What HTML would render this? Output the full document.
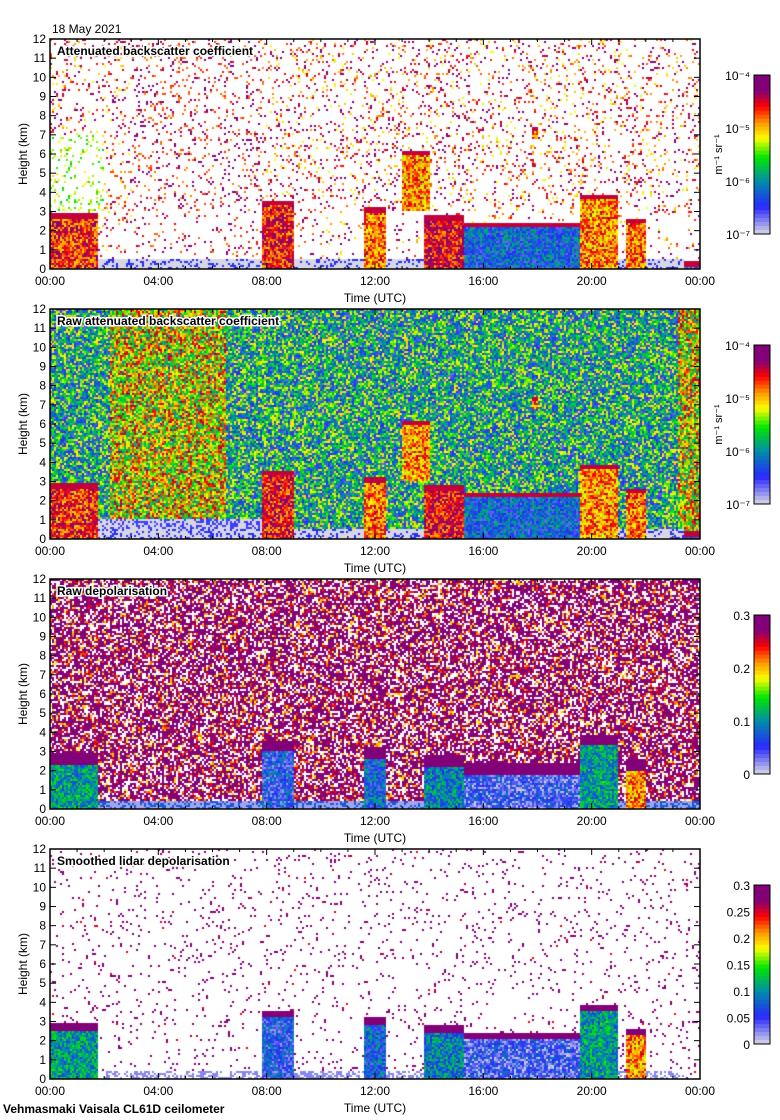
<!DOCTYPE html>
<html><head><meta charset="utf-8">
<style>
body{margin:0;background:#fff;width:780px;height:1120px;overflow:hidden;font-family:"Liberation Sans",sans-serif;}
#wrap{position:relative;width:780px;height:1120px;}
canvas{position:absolute;}
svg{position:absolute;left:0;top:0;}
</style></head>
<body>
<div id="wrap">
<canvas id="c0" width="650" height="230" style="left:50px;top:39px"></canvas>
<canvas id="c1" width="650" height="230" style="left:50px;top:309px"></canvas>
<canvas id="c2" width="650" height="230" style="left:50px;top:579px"></canvas>
<canvas id="c3" width="650" height="230" style="left:50px;top:849px"></canvas>
<svg id="ax" width="780" height="1120"></svg>
</div>
<script>
// ---- data ----
const panelTitles=["Attenuated backscatter coefficient","Raw attenuated backscatter coefficient","Raw depolarisation","Smoothed lidar depolarisation"];
const panelTops=[39,309,579,849];
const timeTicks=["00:00","04:00","08:00","12:00","16:00","20:00","00:00"];
const heightTicks=[0,1,2,3,4,5,6,7,8,9,10,11,12];
const cbLog=["10\u207B\u2074","10\u207B\u2075","10\u207B\u2076","10\u207B\u2077"];
const cbDep3=["0.3","0.2","0.1","0"];
const cbDep4=["0.3","0.25","0.2","0.15","0.1","0.05","0"];
// cloud features: [startHour,endHour,baseKm,topKm,value(0-1) backscatter, value depol]
const cloudStart=[0.0,7.8,11.6,13.8,15.3,19.6,21.3,13.0,17.8,23.4];
const cloudEnd=[1.8,9.0,12.4,15.3,19.6,21.0,22.0,14.0,18.0,24.0];
const cloudBase=[0.0,0.0,0.0,0.0,0.0,0.0,0.0,3.0,6.8,0.0];
const cloudTop=[2.9,3.6,3.2,2.8,2.4,3.9,2.6,6.2,7.4,0.4];
const cloudBsc=[0.78,0.8,0.72,0.82,0.25,0.7,0.72,0.7,0.7,0.2];
const cloudDep=[0.35,0.2,0.25,0.3,0.15,0.35,0.7,0.9,0.95,0.1];

function hash(x,y,s){let n=x*374761393+y*668265263+s*1442695041;n=(n^(n>>>13))*1274126177;n=n^(n>>>16);return ((n>>>0)%10000)/10000;}
const stops=[[0,[215,215,228]],[0.17,[40,40,255]],[0.33,[0,140,170]],[0.48,[0,230,0]],[0.6,[255,255,0]],[0.7,[255,150,0]],[0.8,[255,0,0]],[0.9,[130,0,120]],[1,[130,0,120]]];
function cmap(v){v=Math.max(0,Math.min(1,v));for(let i=1;i<stops.length;i++){if(v<=stops[i][0]){const a=stops[i-1],b=stops[i];const f=(v-a[0])/(b[0]-a[0]);return a[1].map((c,k)=>Math.round(c+(b[1][k]-c)*f));}}return stops[stops.length-1][1];}
function cloudAt(t,h){for(let i=0;i<cloudStart.length;i++){if(t>=cloudStart[i]&&t<=cloudEnd[i]&&h>=cloudBase[i]&&h<=cloudTop[i])return i;}return -1;}

function val(p,t,h,cx,cy){
  const r=hash(cx,cy,p),r2=hash(cy,cx,p+7);
  const ci=cloudAt(t,h);
  if(p<2){
    if(ci>=0){let v=cloudBsc[ci]+(r2-0.5)*0.3; if(h>cloudTop[ci]-0.25)v=0.85; return v;}
    if(h<0.5 && t>1.8 && t<23.4) return (r<0.75)?0.0:0.18;
    if(p===0){
      let prob=h<3?0.07:0.13;
      if(r>prob) return null;
      if(t<2&&h>3&&h<7) return 0.45+r2*0.2;
      if(t>3&&t<8) return r2<0.5?0.95:0.6+r2*0.2;
      return 0.58+r2*0.42;
    } else {
      let base=0.38;
      if((t>2.2&&t<6.5)||t>23.2) base=0.6;
      if(h<1&&t>1.8&&t<8) return r<0.6?0.0:0.15;
      if(h<1.2&&t>15.3&&t<19.6) return 0.2+r2*0.1;
      return base+(r2-0.5)*0.55;
    }
  } else if(p===2){
    if(ci>=0&&ci<7){ if(h>cloudTop[ci]-0.6)return 0.95; return cloudDep[ci]+(r2-0.5)*0.3;}
    if(h<0.4) return r<0.6?0.05:0.25;
    if(r>0.72) return null;
    return r2<0.6?0.97:r2;
  } else {
    if(ci>=0&&ci<7){ if(h>cloudTop[ci]-0.35)return 0.95; return cloudDep[ci]+(r2-0.5)*0.3;}
    if(h<0.4&&t>2&&t<23.4) return r<0.5?0.08:null;
    if(r>0.05) return null;
    return r2<0.8?0.97:r2;
  }
}
for(let p=0;p<4;p++){
  const cv=document.getElementById('c'+p),ctx=cv.getContext('2d');
  const img=ctx.createImageData(650,230),d=img.data;
  for(let cy=0;cy<115;cy++)for(let cx=0;cx<325;cx++){
    const t=(cx+0.5)/325*24,h=12-(cy+0.5)/115*12;
    const v=val(p,t,h,cx,cy);
    let c=v===null?[255,255,255]:cmap(v);
    for(let dy=0;dy<2;dy++)for(let dx=0;dx<2;dx++){const i=((cy*2+dy)*650+cx*2+dx)*4;d[i]=c[0];d[i+1]=c[1];d[i+2]=c[2];d[i+3]=255;}
  }
  ctx.putImageData(img,0,0);
}
// ---- axes ----
const NS="http://www.w3.org/2000/svg",svg=document.getElementById('ax');
function el(tag,attrs,txt){const e=document.createElementNS(NS,tag);for(const k in attrs)e.setAttribute(k,attrs[k]);if(txt!==undefined)e.textContent=txt;svg.appendChild(e);return e;}
const xS=h=>50+h/24*650;
let t0=el('text',{x:52,y:33,'font-size':12,fill:'#000'},"18 May 2021");

let ft=el('text',{x:3,y:1113,'font-size':12,'font-weight':'bold',fill:'#000'},"Vehmasmaki Vaisala CL61D ceilometer");

for(let p=0;p<4;p++){
  const top=panelTops[p],bot=top+230;
  const fr=el('rect',{x:50,y:top,width:650,height:230,fill:'none',stroke:'#000','stroke-width':1.5});
  
  for(let h=0;h<=24;h++){const x=xS(h),len=h%4===0?6:3;
    el('line',{x1:x,y1:bot,x2:x,y2:bot-len,stroke:'#000'});el('line',{x1:x,y1:top,x2:x,y2:top+len,stroke:'#000'});}
  timeTicks.forEach((lab,i)=>{const tl=el('text',{x:xS(i*4),y:bot+16,'font-size':12,'text-anchor':'middle'},lab);
    });
  heightTicks.forEach(v=>{const y=bot-v/12*230;
    el('line',{x1:50,y1:y,x2:56,y2:y,stroke:'#000'});el('line',{x1:700,y1:y,x2:694,y2:y,stroke:'#000'});
    const hl=el('text',{x:46,y:y+4,'font-size':12,'text-anchor':'end'},String(v));
    });
  const xt=el('text',{x:375,y:bot+33,'font-size':12,'text-anchor':'middle'},"Time (UTC)");
  
  const yt=el('text',{x:0,y:0,'font-size':12,'text-anchor':'middle',transform:`translate(27,${top+115}) rotate(-90)`},"Height (km)");
  
  const tt=el('text',{x:57,y:top+16,'font-size':12,'font-weight':'bold',stroke:'#fff','stroke-width':3,'paint-order':'stroke'},panelTitles[p]);
  
  // colorbar
  const cbT=top+36,cbH=159;
  for(let i=0;i<40;i++){const c=cmap(1-(i+0.5)/40);el('rect',{x:754,y:cbT+i*cbH/40,width:16,height:cbH/40+0.5,fill:`rgb(${c})`});}
  const cb=el('rect',{x:754,y:cbT,width:16,height:cbH,fill:'none',stroke:'#000'});
  
  const labs=p<2?cbLog:(p===2?cbDep3:cbDep4);
  labs.forEach((l,i)=>{const y=cbT+i/(labs.length-1)*cbH;
    const cl=el('text',{x:750,y:y+5,'font-size':12,'text-anchor':'end'},l);
    });
  if(p<2){const u=el('text',{x:0,y:0,'font-size':11,'text-anchor':'middle',transform:`translate(722,${cbT+cbH/2}) rotate(-90)`},"m\u207B\u00B9 sr\u207B\u00B9");
    }
}
</script>
</body></html>
